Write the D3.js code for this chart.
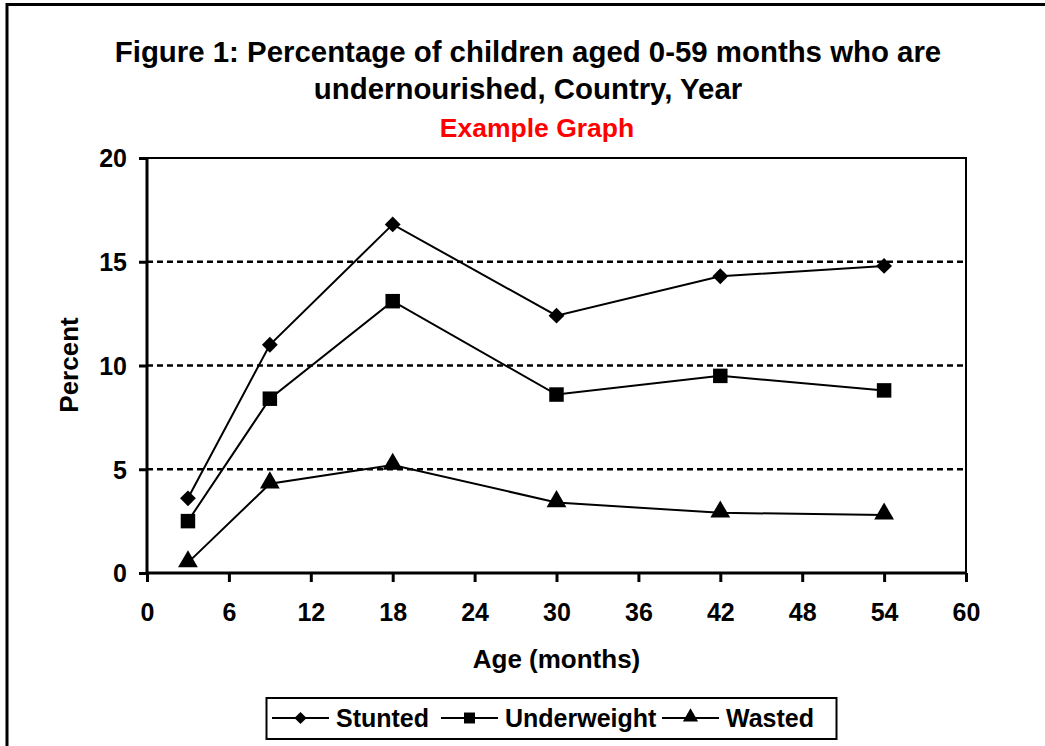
<!DOCTYPE html>
<html><head><meta charset="utf-8">
<script src="https://cdn.jsdelivr.net/npm/d3@7"></script>
<style>body{margin:0;background:#fff}svg{display:block;font-family:"Liberation Sans",Arial,sans-serif}</style>
</head><body>
<svg id="c" width="1045" height="746"></svg>
<script>
const ages = [3, 9, 18, 30, 42, 54];
const stunted = [3.6, 11.0, 16.8, 12.4, 14.3, 14.8];
const underweight = [2.5, 8.4, 13.1, 8.6, 9.5, 8.8];
const wasted = [0.5, 4.3, 5.2, 3.4, 2.9, 2.8];
const xTicks = [0, 6, 12, 18, 24, 30, 36, 42, 48, 54, 60];
const yTicks = [0, 5, 10, 15, 20];
const seriesNames = ["Stunted", "Underweight", "Wasted"];
const seriesSymbols = ["diamond", "square", "triangle"];

const svg = d3.select("#c");
svg.append("path").attr("d","M7,760 L7,4.5 L1060,4.5").attr("fill","none").attr("stroke","#000").attr("stroke-width",3);

const L=147, R=966, T=158, B=573;
const x = d3.scaleLinear().domain([0,60]).range([L,R]);
const y = d3.scaleLinear().domain([0,20]).range([B,T]);

const title = svg.append("text").attr("text-anchor","middle").attr("font-weight","bold").attr("font-size","29.4px");
title.append("tspan").attr("x",528).attr("y",62).text("Figure 1: Percentage of children aged 0-59 months who are");
title.append("tspan").attr("x",528).attr("y",99).text("undernourished, Country, Year");
svg.append("text").attr("x",537).attr("y",137).attr("text-anchor","middle").attr("font-weight","bold").attr("font-size","26.5px").attr("fill","#ff0000").text("Example Graph");

svg.append("g").selectAll("line").data(yTicks.filter(d=>d>0&&d<20)).join("line")
  .attr("x1",L).attr("x2",R).attr("y1",d=>y(d)).attr("y2",d=>y(d))
  .attr("stroke","#000").attr("stroke-width",2.5).attr("stroke-dasharray","6,4");
svg.append("path").attr("d",`M${L},${T} L${R},${T} L${R},${B}`).attr("fill","none").attr("stroke","#000").attr("stroke-width",2);

const xAxis = d3.axisBottom(x).tickValues(xTicks).tickSize(9).tickPadding(21).tickFormat(d3.format("d"));
const gx = svg.append("g").attr("transform",`translate(0,${B})`).call(xAxis);
const yAxis = d3.axisLeft(y).tickValues(yTicks).tickSize(8).tickPadding(12).tickFormat(d3.format("d"));
const gy = svg.append("g").attr("transform",`translate(${L},0)`).call(yAxis);
[gx,gy].forEach(g=>{
  g.select(".domain").attr("stroke","#000").attr("stroke-width",3);
  g.selectAll(".tick line").attr("stroke","#000").attr("stroke-width",3);
  g.selectAll(".tick text").attr("fill","#000").attr("font-size","25px").attr("font-weight","bold").attr("font-family","Liberation Sans, Arial, sans-serif");
});
gx.select(".domain").attr("d",`M${L},0H${R}`);
gy.select(".domain").attr("d",`M0,${B}V${T}`);
gy.selectAll(".tick text").attr("dy","0.35em");

svg.append("text").attr("x",(L+R)/2).attr("y",668).attr("text-anchor","middle").attr("font-weight","bold").attr("font-size","26px").text("Age (months)");
svg.append("text").attr("transform","translate(78,365) rotate(-90)").attr("text-anchor","middle").attr("font-weight","bold").attr("font-size","26px").text("Percent");

const symTypes = {diamond:d3.symbolSquare, square:d3.symbolSquare, triangle:d3.symbolTriangle};
const symSizes = {diamond:125, square:210, triangle:170};
const rot = s => s==="diamond" ? " rotate(45)" : "";
const data = [stunted, underweight, wasted];
const line = d3.line().x((d,i)=>x(ages[i])).y(d=>y(d));
data.forEach((vals,si)=>{
  svg.append("path").datum(vals).attr("d",line).attr("fill","none").attr("stroke","#000").attr("stroke-width",2);
  const s = seriesSymbols[si];
  svg.append("g").selectAll("path").data(vals).join("path")
    .attr("transform",(d,i)=>`translate(${x(ages[i])},${y(d)+(s==="triangle"?-1:0)})${rot(s)}`)
    .attr("d",d3.symbol().type(symTypes[s]).size(symSizes[s])).attr("fill","#000");
});

svg.append("rect").attr("x",266.5).attr("y",698).attr("width",570).attr("height",41).attr("fill","#fff").attr("stroke","#000").attr("stroke-width",2);
const legX = [272, 441, 662];
const legSizes = {diamond:75, square:120, triangle:100};
seriesNames.forEach((n,i)=>{
  const s = seriesSymbols[i];
  const g = svg.append("g").attr("transform",`translate(${legX[i]},718)`);
  g.append("line").attr("x1",0).attr("x2",57).attr("stroke","#000").attr("stroke-width",2);
  g.append("path").attr("transform",`translate(28.5,${s==="triangle"?-1:0})${rot(s)}`).attr("d",d3.symbol().type(symTypes[s]).size(legSizes[s]));
  g.append("text").attr("x",64).attr("y",9).attr("font-weight","bold").attr("font-size","25px").text(n);
});
</script>
</body></html>
